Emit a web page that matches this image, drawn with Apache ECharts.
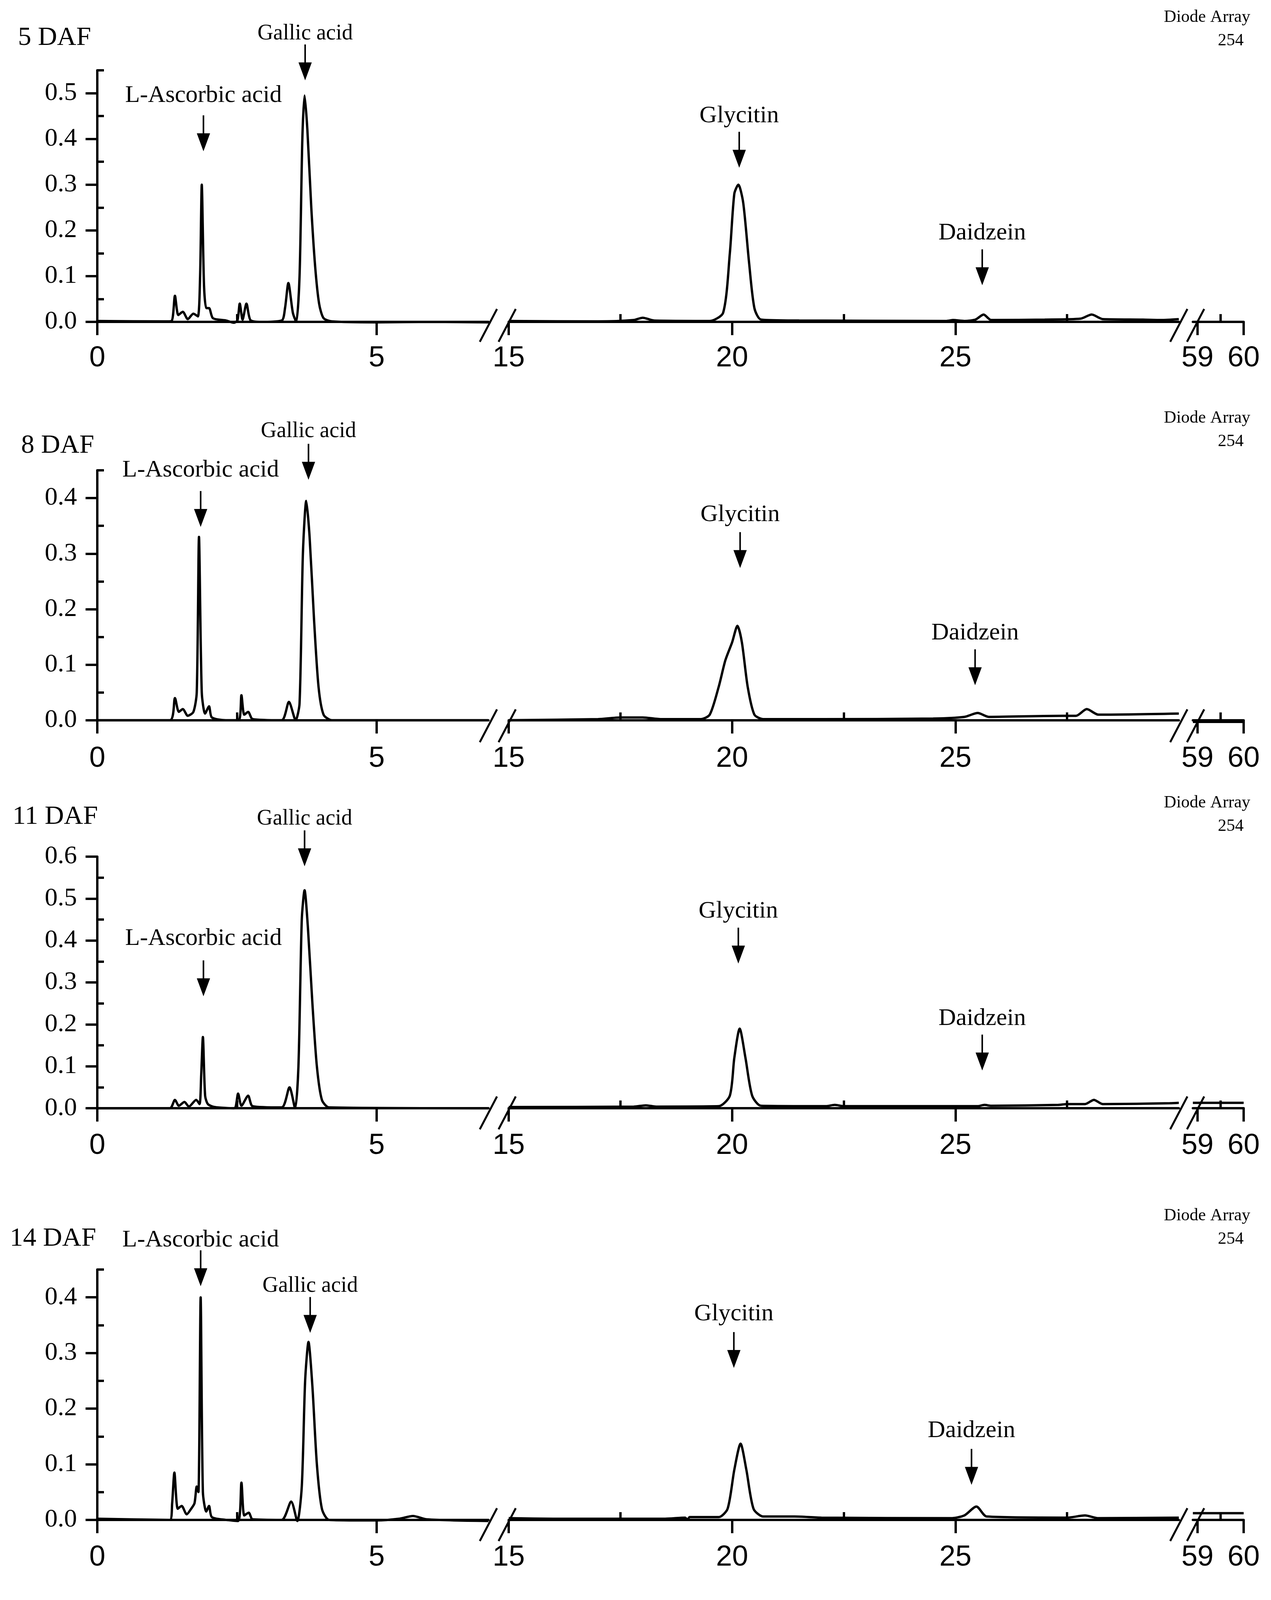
<!DOCTYPE html>
<html>
<head>
<meta charset="utf-8">
<script src="https://cdn.jsdelivr.net/npm/echarts@6/dist/echarts.min.js"></script>
<style>
  html, body { margin: 0; padding: 0; background: #fff; }
  #chart { width: 3253px; height: 5139px; }
</style>
</head>
<body>
<div id="chart"></div>
<script>
// DATA

const panelNames = ["5 DAF", "8 DAF", "11 DAF", "14 DAF", "17 DAF"];
const yMaxValues = [0.5, 0.4, 0.6, 0.4, 0.7];

// retention time (min), absorbance
const trace5a = [[0,0.002],[1.2,0.001],[1.33,0.002],[1.39,0.057],[1.45,0.015],[1.53,0.022],[1.62,0.006],[1.72,0.018],[1.8,0.012],[1.84,0.1],[1.87,0.30],[1.91,0.08],[1.95,0.03],[2.0,0.03],[2.07,0.008],[2.3,0.003],[2.45,-0.002],[2.51,0.004],[2.55,0.04],[2.6,0.005],[2.67,0.04],[2.74,0.004],[2.9,0.0],[3.3,0.003],[3.36,0.03],[3.42,0.085],[3.5,0.02],[3.56,0.0],[3.62,0.1],[3.67,0.4],[3.71,0.495],[3.76,0.42],[3.83,0.25],[3.9,0.12],[3.97,0.04],[4.05,0.008],[4.2,0.001],[5,-0.001],[6,0.0],[7,-0.001]];
const trace5b = [[15,0.002],[17,0.001],[17.8,0.004],[18.0,0.009],[18.25,0.003],[19.5,0.002],[19.8,0.02],[19.95,0.15],[20.05,0.28],[20.14,0.30],[20.25,0.26],[20.38,0.13],[20.5,0.03],[20.65,0.005],[21.5,0.003],[24.8,0.002],[24.95,0.004],[25.2,0.002],[25.45,0.005],[25.63,0.016],[25.8,0.004],[27.0,0.005],[27.8,0.007],[28.05,0.016],[28.3,0.006],[29.2,0.005],[29.6,0.004],[30,0.006]];
const trace5c = [];

const trace8a = [[0,0.0],[1.3,0.0],[1.39,0.04],[1.46,0.015],[1.53,0.02],[1.62,0.008],[1.72,0.015],[1.78,0.05],[1.82,0.33],[1.87,0.05],[1.93,0.012],[2.0,0.025],[2.05,0.005],[2.3,0.0],[2.53,0.0],[2.58,0.045],[2.63,0.01],[2.70,0.015],[2.78,0.002],[3.3,0.0],[3.43,0.033],[3.55,0.0],[3.62,0.03],[3.68,0.3],[3.74,0.395],[3.8,0.33],[3.88,0.18],[3.96,0.06],[4.05,0.01],[4.2,0.0],[7,0.0]];
const trace8b = [[15,0.0],[17,0.002],[17.5,0.005],[18.0,0.005],[18.4,0.002],[19.3,0.002],[19.5,0.01],[19.7,0.06],[19.85,0.108],[20.0,0.14],[20.12,0.17],[20.22,0.14],[20.35,0.06],[20.5,0.01],[20.7,0.002],[22,0.002],[24.5,0.003],[25.2,0.006],[25.5,0.013],[25.75,0.006],[27.4,0.008],[27.7,0.008],[27.94,0.02],[28.2,0.01],[30,0.012]];
const trace8c = [[58.9,-0.003],[60,-0.003]];

const trace11a = [[0,0.0],[1.3,0.0],[1.39,0.02],[1.46,0.006],[1.56,0.015],[1.64,0.004],[1.77,0.02],[1.83,0.01],[1.86,0.08],[1.89,0.17],[1.93,0.03],[1.98,0.01],[2.1,0.003],[2.45,0.0],[2.52,0.035],[2.58,0.006],[2.70,0.03],[2.78,0.005],[3.3,0.002],[3.44,0.05],[3.54,0.0],[3.6,0.1],[3.66,0.45],[3.71,0.52],[3.77,0.43],[3.85,0.25],[3.93,0.1],[4.02,0.02],[4.15,0.002],[7,0.0]];
const trace11b = [[15,0.003],[17.8,0.004],[18.07,0.007],[18.3,0.004],[19.7,0.005],[19.95,0.03],[20.05,0.12],[20.17,0.19],[20.3,0.12],[20.45,0.03],[20.65,0.006],[22.1,0.005],[22.3,0.008],[22.5,0.005],[25.5,0.005],[25.65,0.008],[25.8,0.006],[27.3,0.008],[27.5,0.01],[27.9,0.01],[28.1,0.02],[28.3,0.01],[29.8,0.012],[30,0.013]];
const trace11c = [[58.9,0.013],[60,0.013]];

const trace14a = [[0,0.002],[1.3,0.0],[1.34,0.03],[1.38,0.085],[1.44,0.02],[1.51,0.025],[1.6,0.01],[1.68,0.02],[1.74,0.03],[1.78,0.06],[1.81,0.05],[1.85,0.40],[1.89,0.05],[1.95,0.015],[2.0,0.025],[2.05,0.005],[2.3,0.0],[2.52,-0.002],[2.58,0.067],[2.63,0.008],[2.71,0.013],[2.78,0.001],[3.3,0.0],[3.47,0.033],[3.58,-0.002],[3.66,0.06],[3.72,0.25],[3.78,0.32],[3.85,0.24],[3.93,0.1],[4.02,0.02],[4.15,0.0],[5.0,-0.001],[5.4,0.002],[5.65,0.007],[5.9,0.001],[7,-0.002]];
const trace14b = [[15,0.003],[16,0.002],[18.5,0.002],[18.95,0.004],[19.0,0.0],[19.05,0.005],[19.7,0.005],[19.9,0.02],[20.05,0.09],[20.19,0.137],[20.32,0.09],[20.48,0.02],[20.7,0.006],[21.4,0.006],[22,0.004],[24.9,0.003],[25.2,0.008],[25.47,0.024],[25.7,0.006],[27.5,0.004],[27.9,0.008],[28.2,0.003],[30,0.004]];
const trace14c = [[58.9,0.012],[60,0.012]];

const trace17a = [[0,0.0],[1.3,0.0],[1.38,0.04],[1.45,0.01],[1.53,0.012],[1.65,0.005],[1.77,0.015],[1.81,0.05],[1.84,0.245],[1.88,0.03],[1.95,0.006],[2.0,0.012],[2.06,0.002],[2.5,0.0],[2.58,0.04],[2.63,0.006],[2.70,0.015],[2.78,0.0],[3.25,0.0],[3.37,0.035],[3.47,0.0],[3.54,0.15],[3.6,0.55],[3.65,0.635],[3.72,0.55],[3.8,0.35],[3.9,0.15],[4.0,0.05],[4.1,0.008],[4.25,0.0],[7,0.0]];
const trace17b = [[15,-0.004],[16,0.002],[17,0.008],[18,0.014],[19,0.012],[19.6,0.012],[19.8,0.03],[20.0,0.09],[20.23,0.138],[20.45,0.08],[20.6,0.03],[20.8,0.016],[21.5,0.014],[23,0.01],[25,0.007],[25.45,0.012],[25.8,0.007],[27.5,0.007],[27.95,0.013],[28.2,0.007],[30,0.004]];
const trace17c = [[58.9,0],[60,0]];

const traces = [
  [trace5a, trace5b, trace5c],
  [trace8a, trace8b, trace8c],
  [trace11a, trace11b, trace11c],
  [trace14a, trace14b, trace14c],
  [trace17a, trace17b, trace17c]
];

// peak labels: name, segment, x, arrow tip y, label centre y
const peakNames = ["L-Ascorbic acid", "Gallic acid", "Glycitin", "Daidzein"];
const peakSegment = [0, 0, 1, 1];
const peaks5 = [[1.90, 0.373, 0.495], [3.72, 0.528, 0.63], [20.16, 0.337, 0.45], [25.6, 0.08, 0.194]];
const peaks8 = [[1.85, 0.348, 0.45], [3.78, 0.433, 0.52], [20.18, 0.274, 0.37], [25.44, 0.063, 0.157]];
const peaks11 = [[1.90, 0.267, 0.405], [3.71, 0.577, 0.69], [20.14, 0.345, 0.47], [25.6, 0.09, 0.214]];
const peaks14 = [[1.85, 0.42, 0.503], [3.81, 0.336, 0.42], [20.04, 0.273, 0.37], [25.36, 0.063, 0.16]];
const peaks17 = [[1.85, 0.475, 0.63], [3.67, 0.675, 0.81], [20.08, 0.43, 0.574], [25.43, 0.1, 0.249]];
const peaks = [peaks5, peaks8, peaks11, peaks14, peaks17];

// LAYOUT

const panels = [
  { top: 180,  bottom: 833,  yMin: -0.0077, yTop: 0.55, title: [46, 103],  diode: 48 },
  { top: 1204, bottom: 1858, yMin: -0.010,  yTop: 0.45, title: [54, 1147], diode: 1074 },
  { top: 2193, bottom: 2849, yMin: -0.011,  yTop: 0.60, title: [32, 2097], diode: 2059 },
  { top: 3250, bottom: 3903, yMin: -0.0085, yTop: 0.45, title: [25, 3177], diode: 3116 },
  { top: 4341, bottom: 4999, yMin: -0.015,  yTop: 0.70, title: [25, 4241], diode: 4207 }
];
const segs = [
  { min: 0,    max: 7,  left: 249,  width: 1001, major: [0, 5],        minor: [2.5] },
  { min: 15,   max: 30, left: 1302, width: 1715, major: [15, 20, 25],  minor: [17.5, 22.5, 27.5] },
  { min: 58.9, max: 60, left: 3053, width: 130,  major: [59, 60],      minor: [59.5] }
];

const SERIF = "Liberation Serif";
const SANS = "Liberation Sans";
const LW = 6;

var grid = [], xAxis = [], yAxis = [], series = [], axisRef = [];

panels.forEach((p, pi) => {
  let majY = [], minY = [];
  for (let i = 0; i <= Math.round(yMaxValues[pi] * 10); i++) majY.push(i / 10);
  for (let v = 0.05; v <= p.yTop + 1e-9; v += 0.1) minY.push(+v.toFixed(2));

  segs.forEach((s, si) => {
    let g = grid.length;
    grid.push({ left: s.left, width: s.width, top: p.top, height: p.bottom - p.top });
    let xi = xAxis.length;
    xAxis.push({
      type: "value", gridIndex: g, min: s.min, max: s.max,
      axisLine: { lineStyle: { color: "#000", width: LW } },
      axisTick: { show: true, inside: false, length: 34, customValues: s.major, lineStyle: { color: "#000", width: LW } },
      axisLabel: { customValues: s.major, margin: 48, fontFamily: SANS, fontSize: 74, color: "#000", formatter: v => String(v) },
      splitLine: { show: false }
    });
    xAxis.push({
      type: "value", gridIndex: g, min: s.min, max: s.max,
      axisLine: { show: false },
      axisTick: { show: true, length: 20, customValues: s.minor, lineStyle: { color: "#000", width: LW } },
      axisLabel: { show: false }, splitLine: { show: false }
    });
    let yi = yAxis.length;
    let vis = si === 0;
    yAxis.push({
      type: "value", gridIndex: g, min: p.yMin, max: p.yTop, show: vis,
      axisLine: { show: vis, lineStyle: { color: "#000", width: LW } },
      axisTick: { show: vis, length: 30, customValues: majY, lineStyle: { color: "#000", width: LW } },
      axisLabel: { show: vis, customValues: majY, margin: 52, fontFamily: SERIF, fontSize: 66, color: "#000", formatter: v => v.toFixed(1) },
      splitLine: { show: false }
    });
    yAxis.push({
      type: "value", gridIndex: g, min: p.yMin, max: p.yTop, show: vis,
      axisLine: { show: false },
      axisTick: { show: vis, length: 17, customValues: minY, lineStyle: { color: "#000", width: LW } },
      axisLabel: { show: false }, splitLine: { show: false }
    });
    axisRef.push({ xi, yi });
    series.push({
      type: "line", xAxisIndex: xi, yAxisIndex: yi,
      data: traces[pi][si], showSymbol: false, smooth: 0.25,
      lineStyle: { color: "#000", width: LW }, clip: false, silent: true
    });
  });
});

var chart = echarts.init(document.getElementById("chart"), null, { renderer: "canvas" });
chart.setOption({
  backgroundColor: "#fff",
  animation: false,
  grid: grid, xAxis: xAxis, yAxis: yAxis, series: series
});

// annotations, titles, axis breaks
var graphic = [];
panels.forEach((p, pi) => {
  graphic.push({ type: "text", left: p.title[0], top: p.title[1] - 40,
    style: { text: panelNames[pi], font: "68px '" + SERIF + "'", fill: "#000" } });
  graphic.push({ type: "text", right: 53, top: p.diode - 26,
    style: { text: "Diode Array", font: "44px '" + SERIF + "'", fill: "#000" } });
  graphic.push({ type: "text", right: 70, top: p.diode + 34,
    style: { text: "254", font: "44px '" + SERIF + "'", fill: "#000" } });

  // breaks
  [1250, 1298, 3017, 3060].forEach(cx => {
    graphic.push({ type: "line", shape: { x1: cx - 22, y1: p.bottom + 42, x2: cx + 22, y2: p.bottom - 42 },
      style: { stroke: "#000", lineWidth: 5 } });
  });

  peaks[pi].forEach((pk, k) => {
    let ref = axisRef[pi * 3 + peakSegment[k]];
    let tip = chart.convertToPixel({ xAxisIndex: ref.xi, yAxisIndex: ref.yi }, [pk[0], pk[1]]);
    let lab = chart.convertToPixel({ xAxisIndex: ref.xi, yAxisIndex: ref.yi }, [pk[0], pk[2]]);
    graphic.push({ type: "line", shape: { x1: tip[0], y1: tip[1] - 92, x2: tip[0], y2: tip[1] - 40 },
      style: { stroke: "#000", lineWidth: 4 } });
    graphic.push({ type: "polygon", shape: { points: [[tip[0] - 17, tip[1] - 46], [tip[0] + 17, tip[1] - 46], [tip[0], tip[1]]] },
      style: { fill: "#000" } });
    let fs = k === 1 ? 56 : 62;
    graphic.push({ type: "text", x: lab[0], y: lab[1],
      style: { text: peakNames[k], font: fs + "px '" + SERIF + "'", fill: "#000", align: "center", verticalAlign: "middle" } });
  });
});
chart.setOption({ graphic: graphic });
</script>
</body>
</html>
